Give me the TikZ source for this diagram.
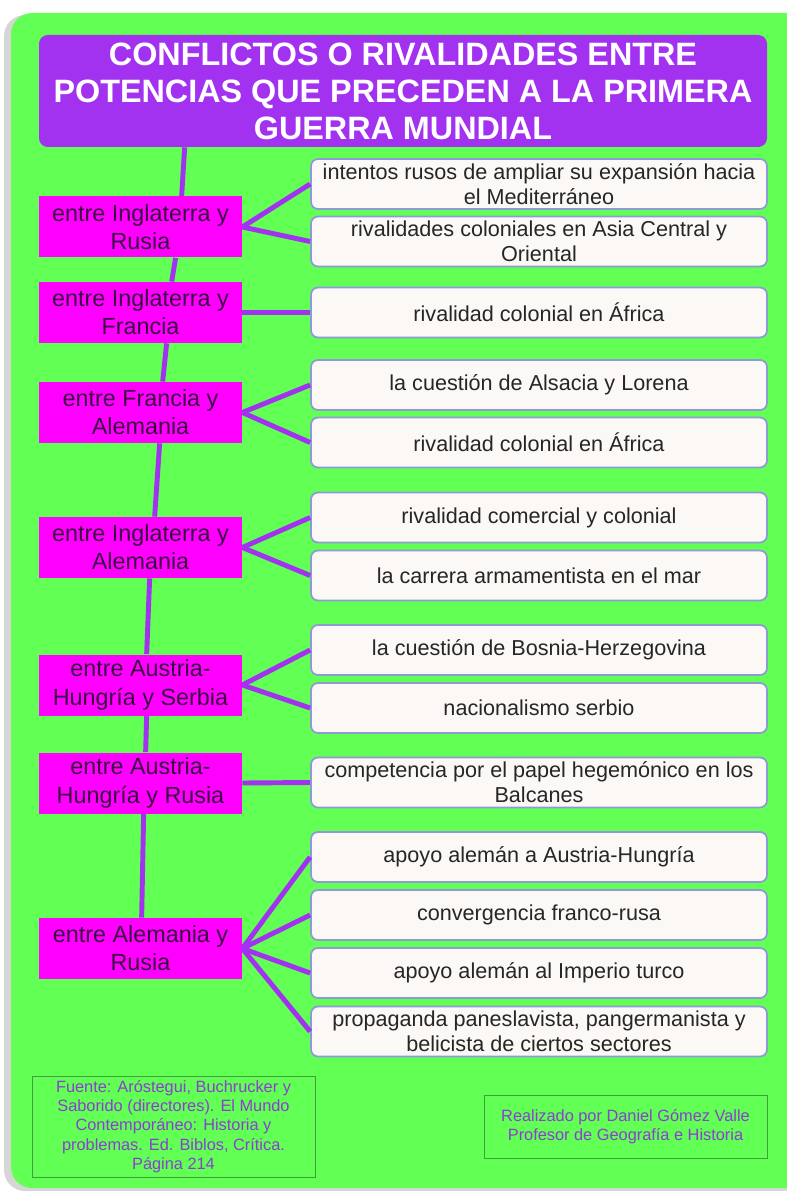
\documentclass[tikz,border=0pt]{standalone}
\usepackage{fontspec}
\setmainfont{Liberation Sans}
\definecolor{fondo}{HTML}{62FF55}
\definecolor{morado}{HTML}{A232F0}
\definecolor{rosa}{HTML}{FF00FF}
\definecolor{crema}{HTML}{FCF8F5}
\definecolor{borde}{HTML}{8E9AD6}
\definecolor{tinta}{HTML}{3A0B42}
\definecolor{notaborde}{HTML}{3FA03A}
\definecolor{notatexto}{HTML}{8A3FD0}
\definecolor{sombra}{HTML}{D6D6D6}

\begin{document}
\begin{tikzpicture}[
	titulo/.style = {fill=morado, rounded corners=5pt, text=white, align=center,
		font=\fontsize{18.4}{21}\selectfont\bfseries,
		minimum width=14.56cm, minimum height=2.24cm, inner sep=0pt},
	pareja/.style = {fill=rosa, text=tinta, align=center,
		font=\fontsize{13.3}{16}\selectfont,
		minimum width=4.06cm, minimum height=1.22cm, inner sep=0pt},
	causa/.style = {draw=borde, line width=1pt, fill=crema, rounded corners=4pt,
		text=black!85, align=center, font=\fontsize{12.3}{14.2}\selectfont,
		minimum width=9.12cm, minimum height=1cm, inner sep=0pt},
	rama/.style = {draw=morado, line width=2.8pt},
	nota/.style = {draw=notaborde, line width=0.5pt, text=notatexto, align=center,
		font=\fontsize{9.3}{11}\selectfont, minimum width=5.66cm, inner sep=0pt}]

	\useasboundingbox (0,0) rectangle (15.72,-23.82);
	% fondo
	\fill[white] (0,0) rectangle (15.72,-23.82);
	\fill[sombra, rounded corners=12pt] (0.08,-0.30) rectangle (16.2,-23.82);
	\fill[fondo, rounded corners=12pt] (0.22,-0.26) rectangle (16.2,-23.76);

	\node[titulo] (titulo) at (8.06,-1.82) {CONFLICTOS O RIVALIDADES ENTRE\\POTENCIAS QUE PRECEDEN A LA PRIMERA\\GUERRA MUNDIAL};

	% parejas de potencias
	\node[pareja] (ing-rus) at (2.81,-4.54) {entre Inglaterra y\\Rusia};
	\node[pareja] (ing-fra) at (2.81,-6.25) {entre Inglaterra y\\Francia};
	\node[pareja] (fra-ale) at (2.81,-8.25) {entre Francia y\\Alemania};
	\node[pareja] (ing-ale) at (2.81,-10.95) {entre Inglaterra y\\Alemania};
	\node[pareja] (aus-ser) at (2.81,-13.70) {entre Austria-\\Hungría y Serbia};
	\node[pareja] (aus-rus) at (2.81,-15.66) {entre Austria-\\Hungría y Rusia};
	\node[pareja] (ale-rus) at (2.81,-18.97) {entre Alemania y\\Rusia};

	% causas
	\node[causa] (c1) at (10.78,-3.68) {intentos rusos de ampliar su expansión hacia\\el Mediterráneo};
	\node[causa] (c2) at (10.78,-4.83) {rivalidades coloniales en Asia Central y\\Oriental};
	\node[causa] (c3) at (10.78,-6.25) {rivalidad colonial en África};
	\node[causa] (c4) at (10.78,-7.70) {la cuestión de Alsacia y Lorena};
	\node[causa] (c5) at (10.78,-8.85) {rivalidad colonial en África};
	\node[causa] (c6) at (10.78,-10.35) {rivalidad comercial y colonial};
	\node[causa] (c7) at (10.78,-11.51) {la carrera armamentista en el mar};
	\node[causa] (c8) at (10.78,-13.00) {la cuestión de Bosnia-Herzegovina};
	\node[causa] (c9) at (10.78,-14.16) {nacionalismo serbio};
	\node[causa] (c10) at (10.78,-15.65) {competencia por el papel hegemónico en los\\Balcanes};
	\node[causa] (c11) at (10.78,-17.14) {apoyo alemán a Austria-Hungría};
	\node[causa] (c12) at (10.78,-18.30) {convergencia franco-rusa};
	\node[causa] (c13) at (10.78,-19.46) {apoyo alemán al Imperio turco};
	\node[causa] (c14) at (10.78,-20.63) {propaganda paneslavista, pangermanista y\\belicista de ciertos sectores};

	% tronco
	\draw[rama] ([xshift=2.92cm]titulo.south west) -- ([xshift=2.86cm]ing-rus.north west);
	\draw[rama] ([xshift=2.74cm]ing-rus.south west) -- ([xshift=2.66cm]ing-fra.north west);
	\draw[rama] ([xshift=2.56cm]ing-fra.south west) -- ([xshift=2.48cm]fra-ale.north west);
	\draw[rama] ([xshift=2.42cm]fra-ale.south west) -- ([xshift=2.32cm]ing-ale.north west);
	\draw[rama] ([xshift=2.22cm]ing-ale.south west) -- ([xshift=2.16cm]aus-ser.north west);
	\draw[rama] ([xshift=2.16cm]aus-ser.south west) -- ([xshift=2.14cm]aus-rus.north west);
	\draw[rama] ([xshift=2.10cm]aus-rus.south west) -- ([xshift=2.06cm]ale-rus.north west);

	% ramas
	\draw[rama] (ing-rus.east) -- (c1.west);
	\draw[rama] (ing-rus.east) -- (c2.west);
	\draw[rama] (ing-fra.east) -- (c3.west);
	\draw[rama] (fra-ale.east) -- (c4.west);
	\draw[rama] (fra-ale.east) -- (c5.west);
	\draw[rama] (ing-ale.east) -- (c6.west);
	\draw[rama] (ing-ale.east) -- (c7.west);
	\draw[rama] (aus-ser.east) -- (c8.west);
	\draw[rama] (aus-ser.east) -- (c9.west);
	\draw[rama] (aus-rus.east) -- (c10.west);
	\foreach \c in {c11,c12,c13,c14}
		\draw[rama] (ale-rus.east) -- (\c.west);

	% notas
	\node[nota, minimum height=2.02cm] (fuente) at (3.47,-22.53) {Fuente: Aróstegui, Buchrucker y\\Saborido (directores). El Mundo\\Contemporáneo: Historia y\\problemas. Ed. Biblos, Crítica.\\Página 214};
	\node[nota, minimum height=1.26cm] (autor) at (12.51,-22.53) {Realizado por Daniel Gómez Valle\\Profesor de Geografía e Historia};
\end{tikzpicture}
\end{document}
